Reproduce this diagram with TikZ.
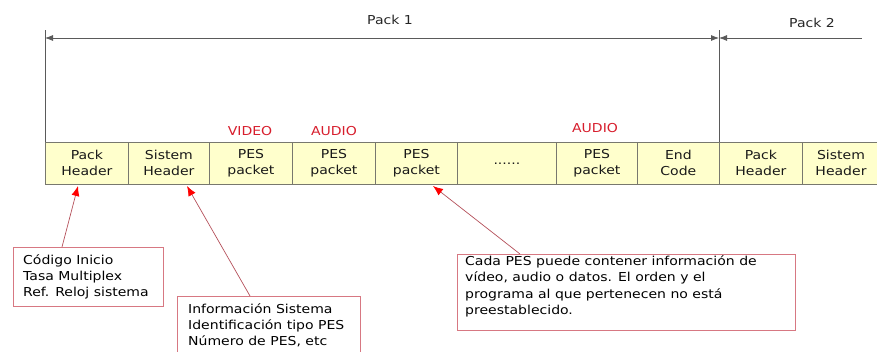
\documentclass[tikz,border=0pt]{standalone}
\usepackage{fontspec}
\setmainfont{DejaVu Sans}[FakeStretch=1.14]
\usetikzlibrary{arrows.meta}
\definecolor{cellfill}{RGB}{255,255,204}
\definecolor{cellline}{RGB}{120,120,110}
\definecolor{dimline}{RGB}{90,90,90}
\definecolor{calloutline}{RGB}{215,120,130}
\definecolor{pointer}{RGB}{180,80,90}
\definecolor{labred}{RGB}{215,30,45}
\begin{document}
\begin{tikzpicture}[x=1pt,y=-1pt,
  cell/.style={draw=cellline,fill=cellfill,line width=0.8pt,minimum height=42pt,inner sep=0pt,
    font=\fontsize{12.3}{16}\selectfont,text=black!90,align=center,anchor=north west},
  streamlbl/.style={font=\fontsize{12.3}{14}\selectfont,text=labred},
  packlbl/.style={font=\fontsize{12.3}{14}\selectfont,text=black!85},
  callout/.style={draw=calloutline,line width=1pt,fill=white,anchor=north west,inner sep=0pt},
  callouttext/.style={anchor=north west,align=left,inner sep=0pt,
    font=\fontsize{12.3}{16.4}\selectfont,text=black},
  ptr/.style={draw=pointer,line width=0.7pt,-{Latex[length=10pt,width=8pt,color=red]}},
  dim/.style={draw=dimline,line width=0.8pt}]
\useasboundingbox (0,0) rectangle (877,351);
% cells
\node[cell,minimum width=83pt] (ph) at (45,142) {Pack\\Header};
\node[cell,minimum width=81pt] (sh) at (128,142) {Sistem\\Header};
\node[cell,minimum width=83pt] (p1) at (209,142) {PES\\packet};
\node[cell,minimum width=83pt] (p2) at (292,142) {PES\\packet};
\node[cell,minimum width=82pt] (p3) at (375,142) {PES\\packet};
\node[cell,minimum width=99pt] (dots) at (457,142) {......};
\node[cell,minimum width=81pt] (p4) at (556,142) {PES\\packet};
\node[cell,minimum width=82pt] (ec) at (637,142) {End\\Code};
\node[cell,minimum width=83pt] (ph2) at (719,142) {Pack\\Header};
\fill[cellfill] (802,142) rectangle (877,184);
\draw[cellline,line width=0.8pt] (877,142) -- (802,142) -- (802,184) -- (877,184);
\node[font=\fontsize{12.3}{16}\selectfont,text=black!90,align=center] (sh2) at (841,163) {Sistem\\Header};
% stream labels
\node[streamlbl] (lv) at (250,131) {VIDEO};
\node[streamlbl] (la1) at (334,131) {AUDIO};
\node[streamlbl] (la2) at (595,128) {AUDIO};
% dimension lines
\coordinate (l0) at (45,30);
\coordinate (l1) at (45,142);
\coordinate (m0) at (719,30);
\coordinate (m1) at (719,142);
\draw[dim] (l0) -- (l1);
\draw[dim] (m0) -- (m1);
\coordinate (a1) at (45,38);
\coordinate (a2) at (719,38);
\coordinate (a3) at (862,38);
\draw[dim,{Latex[length=8pt,width=6pt]}-{Latex[length=8pt,width=6pt]}] (a1) -- (a2);
\draw[dim,{Latex[length=8pt,width=6pt]}-] (a2) -- (a3);
\node[packlbl] (pk1) at (390,20) {Pack 1};
\node[packlbl] (pk2) at (812,23) {Pack 2};
% callouts
\node[callout,minimum width=150pt,minimum height=59pt] (c1) at (13,247) {};
\node[callouttext] (c1t) at (23,254) {Código Inicio\\Tasa Multiplex\\Ref. Reloj sistema};
\node[callout,minimum width=183pt,minimum height=62pt] (c2) at (177,296) {};
\node[callouttext] (c2t) at (188,303) {Información Sistema\\Identificación tipo PES\\Número de PES, etc};
\node[callout,minimum width=338pt,minimum height=76pt] (c3) at (457,254) {};
\node[callouttext] (c3t) at (465,255.5) {Cada PES puede contener información de\\vídeo, audio o datos. El orden y el\\programa al que pertenecen no está\\preestablecido.};
% pointers
\coordinate (t1) at (78,186);
\coordinate (t2) at (187,186);
\coordinate (t3) at (433,186);
\draw[ptr] (c1.north west) ++(49,0) -- (t1);
\draw[ptr] (c2.north west) ++(73,0) -- (t2);
\draw[ptr] (c3.north west) ++(63,0) -- (t3);
\end{tikzpicture}
\end{document}
